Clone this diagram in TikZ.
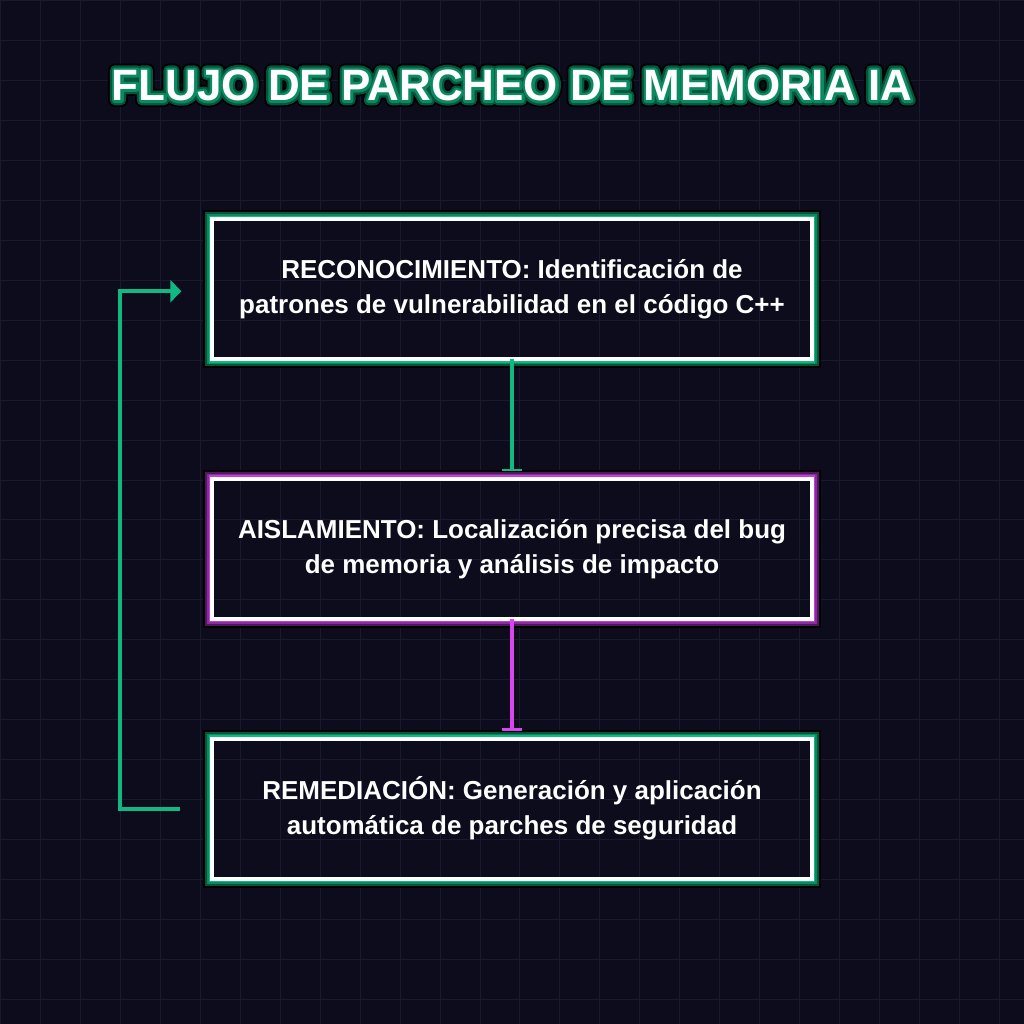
\documentclass[tikz,border=0pt]{standalone}
\usepackage{fontspec}
\setmainfont{Liberation Sans}
\newfontfamily\titleOuter{Liberation Sans Bold}[FakeBold=30]
\newfontfamily\titleMid{Liberation Sans Bold}[FakeBold=22]
\newfontfamily\titleNear{Liberation Sans Bold}[FakeBold=12]
\newfontfamily\titleIn{Liberation Sans Bold}
\usetikzlibrary{arrows.meta}
\definecolor{bgc}{HTML}{0C0C1C}
\definecolor{gridc}{HTML}{1A1A2E}
\definecolor{grn}{HTML}{10B981}
\definecolor{grnmid}{HTML}{0B8A62}
\definecolor{grndark}{HTML}{05553D}
\definecolor{pur}{HTML}{D946EF}
\definecolor{purbright}{HTML}{C040D8}
\definecolor{purmid}{HTML}{8E2AA0}
\definecolor{purdark}{HTML}{4E1760}
\newcommand\glowbox[4]{%
  \draw[black, line width=2pt] ([shift={(-8,-8)}]#1.north west) rectangle ([shift={(8,8)}]#1.south east);
  \draw[#4, line width=2pt] ([shift={(-6,-6)}]#1.north west) rectangle ([shift={(6,6)}]#1.south east);
  \draw[#3, line width=1.6pt] ([shift={(-4.3,-4.3)}]#1.north west) rectangle ([shift={(4.3,4.3)}]#1.south east);
  \draw[#2, line width=1.6pt] ([shift={(-2.8,-2.8)}]#1.north west) rectangle ([shift={(2.8,2.8)}]#1.south east);
}
\begin{document}
\begin{tikzpicture}[x=1pt,y=-1pt,
  boxnode/.style={draw=white, line width=4pt, minimum width=600pt, minimum height=140pt,
    outer sep=0pt, inner sep=0pt, text=white, align=center,
    font=\bfseries\fontsize{26}{35}\selectfont},
  titletext/.style={anchor=base, line join=round, line cap=round, font=#1\fontsize{44}{50}\selectfont},
  flowarrow/.style={line width=4.5pt, -{Bar[width=21pt,line width=2.5pt]}},
  looparrow/.style={grn, line width=4pt, line join=miter, -{Triangle[width=22pt,length=11pt]}}]
\fill[bgc] (0,0) rectangle (1024,1024);
\foreach \i in {0,40,...,1000} {
  \draw[gridc, line width=1pt] (\i,0) -- (\i,1024);
  \draw[gridc, line width=1pt] (0,\i) -- (1024,\i);
}
\useasboundingbox (0,0) rectangle (1024,1024);
% title
\begin{scope}[line join=round, line cap=round]
\node[titletext=\titleOuter, text=black] (titleA) at (512,100) {FLUJO DE PARCHEO DE MEMORIA IA};
\node[titletext=\titleMid, text=grndark] (titleB) at (512,100) {FLUJO DE PARCHEO DE MEMORIA IA};
\node[titletext=\titleNear, text=grnmid] (titleC) at (512,100) {FLUJO DE PARCHEO DE MEMORIA IA};
\node[titletext=\titleIn, text=white] (title) at (512,100) {FLUJO DE PARCHEO DE MEMORIA IA};
\end{scope}
% boxes
\node[boxnode] (b1) at (512,289) {RECONOCIMIENTO: Identificación de\\patrones de vulnerabilidad en el código C++};
\node[boxnode] (b2) at (512,549) {AISLAMIENTO: Localización precisa del bug\\de memoria y análisis de impacto};
\node[boxnode] (b3) at (512,809) {REMEDIACIÓN: Generación y aplicación\\automática de parches de seguridad};
\glowbox{b1}{grn}{grnmid}{grndark}
\glowbox{b2}{purbright}{purmid}{purdark}
\glowbox{b3}{grn}{grnmid}{grndark}
% arrows
\draw[flowarrow, grn] (b1.south) -- ([yshift=8pt]b2.north);
\draw[flowarrow, pur] (b2.south) -- ([yshift=8pt]b3.north);
\coordinate (loopstart) at ([xshift=-32pt]b3.west);
\coordinate (loopend) at ([xshift=-31pt,yshift=-2pt]b1.west);
\draw[looparrow] (loopstart) -- (120,809) -- (120,291) -- (loopend);
\end{tikzpicture}
\end{document}
